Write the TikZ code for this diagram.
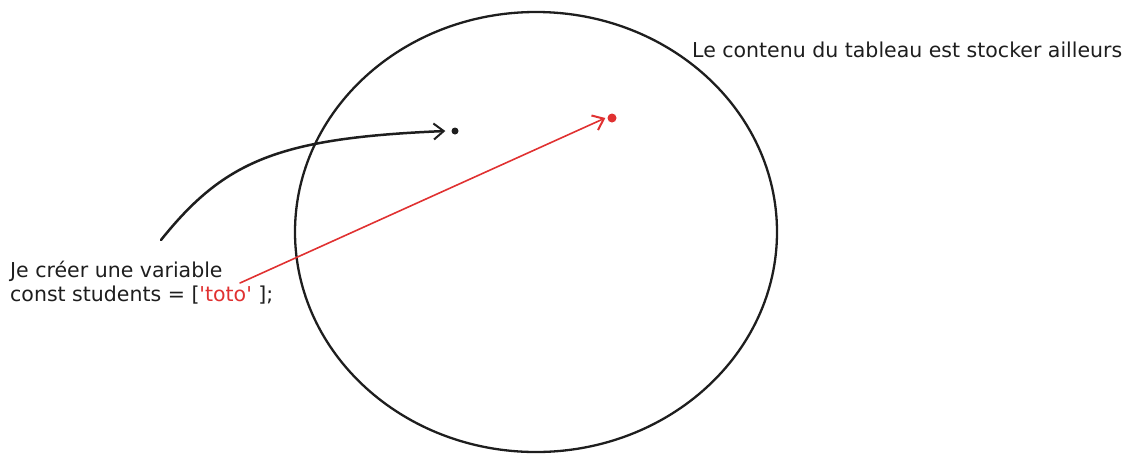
\documentclass[tikz,border=0pt]{standalone}
\usepackage{fontspec}
\setmainfont{DejaVu Sans}
\usetikzlibrary{arrows.meta}
\definecolor{ink}{HTML}{1E1E1E}
\definecolor{exred}{HTML}{E03131}
\tikzset{
  lbl/.style={anchor=base west, inner sep=0pt, text=ink, font=\fontsize{20.5}{24}\selectfont},
  dotnode/.style={circle, fill=#1, inner sep=0pt, minimum size=7pt},
  arr/.style={-{Straight Barb[length=10pt,width=16pt,line width=2pt]}, line cap=round},
}
\begin{document}
\begin{tikzpicture}[x=1pt,y=-1pt]
\useasboundingbox (0,0) rectangle (1132,459);
% big circle
\draw[ink, line width=2.3pt] (536,232) ellipse [x radius=241, y radius=220];
% dots
\node[dotnode=ink] (bd) at (455,131) {};
\node[dotnode=exred, minimum size=9pt] (rd) at (612,118) {};
% texts
\node[lbl] (t1) at (10,277) {Je créer une variable};
\node[lbl] (t2) at (10,301) {const students = [\textcolor{exred}{\textquotesingle toto\textquotesingle} ];};
\node[lbl] (t3) at (692,57) {Le contenu du tableau est stocker ailleurs};
\coordinate (bs) at (161,240);
\coordinate (rs) at (240,283);
% arrows
\draw[arr, ink, line width=2.5pt] (bs) .. controls (225,160) and (280,138) .. ([xshift=-6pt]bd.west);
\draw[arr, exred, line width=1.6pt] (rs) -- ([xshift=-2pt]rd.west);
\end{tikzpicture}
\end{document}
